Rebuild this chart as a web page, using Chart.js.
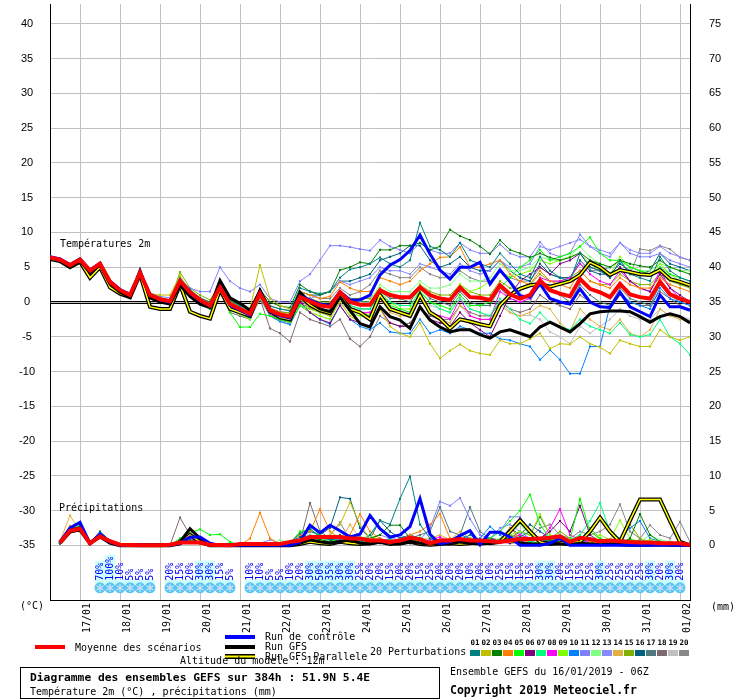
<!DOCTYPE html>
<html lang="fr">
<head>
<meta charset="utf-8">
<title>Diagramme des ensembles GEFS</title>
<script src="https://cdn.jsdelivr.net/npm/chart.js@4.4.1/dist/chart.umd.min.js"></script>
<style>
  html, body { margin: 0; padding: 0; background: #fff; }
  canvas { display: block; }
</style>
</head>
<body>
<canvas id="gefsChart" width="740" height="700"></canvas>
<script>
// GEFS run of 16/01/2019 06Z, one value every 6 h out to 384 h
const STEP_H = 6;
const RUN_LENGTH_H = 384;
const FIRST_MIDNIGHT_H = 18; // 17/01 00Z

const DATE_LABELS = ['17/01', '18/01', '19/01', '20/01', '21/01', '22/01', '23/01', '24/01',
  '25/01', '26/01', '27/01', '28/01', '29/01', '30/01', '31/01', '01/02'];
const TEMP_TICKS = [-35, -30, -25, -20, -15, -10, -5, 0, 5, 10, 15, 20, 25, 30, 35, 40];
const PRECIP_TICKS = [0, 5, 10, 15, 20, 25, 30, 35, 40, 45, 50, 55, 60, 65, 70, 75];

// Temperature 2m (°C)
const MEAN_T = [6.4,6.1,5.3,6.1,4.5,5.5,2.9,1.7,1.0,4.2,1.0,0.4,0.1, 3.0,1.4,0.3,-0.5, 2.1,-0.3,-1.0,-1.7, 1.2,-1.2,-1.8,-2.1, 0.7,0.1,-0.5,-0.7, 1.4,0.0,-0.4,-0.4, 1.7,1.0,0.7,0.7, 2.1,1.0,0.5,0.3, 2.1,0.7,0.6,0.3, 2.4,1.1,0.5,1.0, 3.1,1.7,1.2,0.8, 3.3,1.9,1.4,0.7, 2.6,1.1,0.7,0.5, 2.9,1.1,0.5,0.0];
const CTRL_T = [6.5,6.2,5.4,6.2,4.6,5.6,3.0,1.8,1.1,4.3,1.1,0.3,0.0, 3.1,1.3,0.2,-0.6, 2.2,-0.5,-1.2,-1.9, 1.3,-1.3,-2.0,-2.3, 0.8,0.3,-0.3,-0.5, 1.5,0.3,0.3,1.0, 3.9,5.3,6.1,7.4, 9.6,6.9,4.6,3.3, 5.0,5.0,5.7,2.6, 4.6,2.9,0.9,0.7, 2.6,0.5,0.0,-0.3, 1.9,0.0,-0.7,-0.8, 1.4,-0.7,-1.4,-2.1, 1.0,-0.7,-0.7,-1.2];
const GFS_T = [6.3,6.0,5.1,5.9,4.2,5.3,2.6,1.4,0.7,4.5,0.6,0.0,-0.3, 2.4,0.8,-0.3,-0.8, 3.1,0.6,-0.2,-1.2, 1.6,-1.4,-1.9,-2.1, 1.4,0.0,-1.0,-1.4, 0.7,-1.2,-3.1,-3.6, -0.7,-2.1,-2.6,-3.8, -0.7,-2.6,-3.6,-4.3, -4.0,-4.0,-4.7,-5.2, -4.3,-4.0,-4.5,-5.0, -3.6,-2.9,-3.6,-4.3, -3.1,-1.7,-1.4,-1.3, -1.3,-1.4,-2.1,-2.9, -2.1,-1.7,-2.1,-3.0];
const PARA_T = [6.2,5.9,5.0,5.8,3.5,5.0,2.1,1.2,0.7,4.0,-0.7,-1.0,-1.0, 2.5,-1.4,-2.0,-2.4, 1.8,-1.0,-1.5,-2.0, 1.5,-1.3,-2.2,-2.5, 0.9,-0.4,-1.2,-1.6, 1.0,-1.0,-1.5,-2.5, 1.0,-1.0,-1.5,-2.0, 1.0,-1.5,-2.4,-3.8, -2.5,-2.8,-3.2,-3.5, -0.5,1.0,1.9,2.4, 2.6,2.2,2.6,3.0, 3.9,5.7,5.0,3.9, 4.6,4.3,4.0,3.9, 4.6,3.3,2.9,2.4];

const T01 = [6.5,6.2,5.4,6.2,4.6,5.6,3.0,1.8,1.2,4.5,1.2,0.6,0.3, 3.4,1.8,0.6,0.0, 2.6,0.2,-0.6,-1.2, 1.6,-0.6,-1.0,-1.3, 2.0,1.5,1.2,1.5, 3.5,4.7,5.0,5.5, 6.4,5.5,5.0,6.0, 11.4,8.0,7.5,6.5, 8.5,6.0,5.5,5.0, 7.0,5.5,4.0,3.5, 6.5,4.5,3.5,3.0, 7.0,5.0,4.5,3.5, 6.0,4.0,3.5,3.0, 6.5,4.5,3.5,3.0];
const T02 = [6.3,6.0,5.2,6.0,4.4,5.4,2.8,1.6,0.9,4.0,1.2,1.0,1.0, 3.8,1.5,0.5,-0.2, 2.5,0.0,-0.5,-1.0, 5.3,0.5,-0.5,-1.0, 0.5,-1.0,-1.5,-2.0, 0.0,-2.0,-3.0,-3.5, -1.0,-3.5,-4.5,-5.0, -3.0,-6.0,-8.1,-7.0, -6.1,-7.0,-7.4,-7.6, -5.5,-6.0,-6.0,-5.3, -4.5,-6.7,-6.0,-6.1, -5.0,-6.0,-6.5,-7.4, -5.5,-6.0,-6.4,-6.4, -4.0,-5.0,-5.5,-5.0];
const T03 = [6.4,6.1,5.3,6.1,4.5,5.5,2.9,1.7,1.0,4.2,1.0,0.5,0.2, 3.2,1.5,0.5,-0.2, 2.4,0.3,-0.5,-1.0, 1.8,0.0,-0.6,-0.8, 2.5,1.5,1.0,1.5, 4.6,5.0,5.7,5.5, 7.5,7.5,8.1,8.1, 8.5,7.5,8.0,10.4, 9.5,8.9,8.0,6.9, 8.9,7.5,7.0,6.4, 7.0,6.4,6.0,6.4, 7.1,6.0,5.5,5.0, 6.0,5.5,5.2,5.0, 6.0,5.0,4.5,4.0];
const T04 = [6.5,6.2,5.4,6.1,4.6,5.6,3.1,1.8,1.1,4.3,1.2,0.6,0.3, 3.3,1.6,0.5,-0.3, 2.3,0.0,-0.8,-1.5, 1.5,-0.8,-1.5,-1.8, 1.5,1.0,0.5,0.8, 2.9,2.0,1.5,1.5, 3.5,3.0,2.5,3.0, 4.5,5.5,6.4,6.5, 7.9,5.0,5.0,5.5, 6.0,4.0,3.0,2.5, 4.5,3.0,2.5,2.0, 4.5,3.0,2.5,2.0, 3.5,2.5,2.0,2.0, 3.5,2.5,2.0,1.5];
const T05 = [6.4,6.0,5.2,6.0,4.5,5.4,2.8,1.6,0.9,4.0,0.8,0.2,-0.1, 2.6,0.8,-0.3,-1.0, 1.5,-1.5,-3.6,-3.6, -1.7,-2.0,-2.5,-2.8, -0.5,-1.0,-1.5,-2.0, 0.5,-1.0,-1.5,-2.0, 0.5,-0.5,-1.0,-1.5, 1.5,0.0,-0.5,-1.0, 1.0,-0.5,-0.5,0.0, 2.0,3.5,5.0,6.0, 7.5,6.0,6.5,7.0, 8.0,9.3,7.0,6.0, 6.0,5.0,4.5,4.0, 5.0,4.0,3.5,3.0];
const T06 = [6.4,6.1,5.3,6.1,4.5,5.5,2.9,1.8,1.1,4.3,1.0,0.3,0.0, 3.1,1.3,0.2,-0.5, 2.2,-0.3,-1.2,-1.8, 1.0,-1.5,-2.0,-2.3, 0.0,-1.5,-2.5,-3.0, -0.5,-2.5,-3.0,-3.5, -1.0,-3.0,-3.5,-3.5, -1.0,-2.5,-3.0,-3.5, -1.5,-3.0,-4.0,-5.0, -2.0,1.0,3.0,4.0, 5.0,4.0,5.5,6.0, 7.0,5.0,4.5,3.5, 5.0,3.0,2.0,1.5, 4.0,2.0,1.0,0.0];
const T07 = [6.5,6.1,5.3,6.2,4.6,5.5,3.0,1.8,1.0,4.4,1.1,0.5,0.1, 3.2,1.4,0.1,-0.7, 1.8,-0.6,-1.5,-2.2, 0.8,-1.6,-2.3,-2.6, 0.3,-0.5,-1.0,-1.2, 1.0,-0.5,-1.0,-1.0, 1.0,0.0,-0.5,-0.5, 1.5,0.0,-1.0,-1.5, 0.5,-1.0,-1.5,-2.0, 0.5,-1.0,-2.5,-3.1, -1.5,-3.0,-3.5,-4.0, -2.5,-3.5,-4.0,-4.5, -3.0,-4.7,-5.0,-4.7, -2.5,-5.0,-6.0,-7.6];
const T08 = [6.4,6.1,5.3,6.1,4.4,5.5,2.8,1.6,0.9,4.1,0.9,0.3,0.0, 2.9,1.2,0.0,-0.8, 1.8,-0.8,-1.5,-2.0, 0.8,-1.8,-2.4,-2.7, 0.0,-0.5,-1.0,-1.5, 0.5,-1.0,-1.5,-1.5, 0.5,-1.0,-1.5,-1.7, 1.0,-1.5,-2.0,-2.4, 0.5,-2.0,-2.5,-2.5, 1.5,0.5,0.0,0.5, 3.5,3.0,3.0,3.5, 5.5,4.0,3.0,2.5, 4.5,3.0,2.0,1.5, 4.5,2.0,0.5,0.0];
const T09 = [6.3,6.0,5.2,6.0,4.4,5.3,2.7,1.5,0.8,3.9,0.8,0.2,-0.2, 2.8,1.1,0.0,-0.8, 1.6,-1.0,-1.8,-2.5, 0.6,-1.8,-2.5,-2.9, -0.5,-1.5,-2.0,-2.5, 0.5,-1.5,-2.0,-2.0, 1.5,0.0,-1.0,-1.0, 2.0,1.0,0.5,0.5, 2.5,1.5,2.0,3.0, 4.5,3.5,4.0,4.5, 6.0,5.5,6.0,6.5, 7.0,5.5,4.5,4.0, 6.5,5.0,4.5,4.0, 5.5,4.0,3.0,2.5];
const T10 = [6.4,6.0,5.3,6.0,4.5,5.4,2.8,1.6,0.9,4.0,0.9,0.2,-0.2, 2.7,0.9,-0.3,-1.0, 1.8,-0.8,-1.6,-2.3, 0.6,-2.0,-2.8,-3.2, -0.5,-1.5,-2.5,-3.2, -0.5,-2.5,-3.5,-4.0, -3.0,-4.3,-4.5,-4.5, -2.5,-4.5,-4.0,-4.5, -3.5,-4.0,-4.5,-4.5, -5.3,-5.5,-6.0,-6.4, -8.3,-6.9,-8.3,-10.3, -10.3,-6.4,-6.4,-0.5, 1.5,0.0,-0.5,-1.0, 2.0,0.5,0.0,-0.5];
const T11 = [6.4,6.1,5.4,6.2,4.6,5.6,3.0,1.8,1.1,4.4,1.3,0.8,0.6, 3.2,2.0,1.5,1.5, 5.0,3.0,2.0,1.5, 2.5,0.5,0.0,0.0, 3.0,4.0,6.0,8.1, 8.1,7.9,7.6,7.4, 8.9,8.0,7.5,7.0, 8.5,7.5,7.0,7.0, 8.5,7.5,7.0,7.0, 8.3,7.0,6.5,6.5, 8.6,7.0,6.5,7.0, 9.7,8.0,7.0,6.5, 8.5,7.0,6.5,6.5, 7.0,6.0,5.5,5.0];
const T12 = [6.5,6.2,5.4,6.2,4.6,5.6,3.0,1.8,1.1,4.3,1.1,0.5,0.2, 3.1,1.5,0.4,-0.4, 2.2,-0.2,-0.9,-1.5, 1.3,-1.0,-1.6,-1.9, 0.8,0.3,-0.3,-0.5, 1.5,0.5,0.0,0.0, 2.5,1.5,1.5,1.5, 3.0,2.0,2.0,2.5, 4.0,3.0,3.0,3.5, 5.5,4.5,4.5,5.0, 6.5,6.0,6.0,6.5, 8.0,6.5,5.5,5.0, 6.0,5.0,4.5,4.5, 5.5,5.0,4.5,4.5];
const T13 = [6.3,6.0,5.2,6.0,4.4,5.4,2.8,1.6,0.9,4.1,0.9,0.3,0.0, 3.0,1.3,0.2,-0.6, 2.0,-0.4,-1.1,-1.8, 1.0,-1.3,-1.9,-2.2, 0.5,0.5,1.0,1.5, 3.0,2.5,3.0,3.5, 5.0,4.5,4.5,4.0, 5.5,5.0,4.5,4.0, 5.5,4.5,4.0,4.5, 6.0,5.0,5.0,5.5, 8.0,7.5,8.0,8.5, 9.0,8.0,7.5,7.0, 8.5,7.5,7.0,7.0, 8.0,7.0,6.5,6.0];
const T14 = [6.4,6.1,5.3,6.1,4.5,5.5,2.9,1.7,1.0,4.2,1.0,0.4,0.1, 2.8,1.2,0.1,-0.7, 1.9,-0.5,-1.3,-2.0, 1.0,-1.4,-2.0,-2.4, 0.3,-0.4,-1.0,-1.4, 0.8,-0.8,-1.5,-1.8, 0.5,-1.5,-2.0,-2.0, 0.5,-1.5,-2.5,-3.0, -0.5,-2.0,-2.5,-2.5, -0.5,-1.5,-2.0,-1.5, -0.5,-1.0,-3.0,-4.3, -1.0,-2.5,-3.5,-4.0, -2.5,-4.5,-5.0,-4.0, -1.0,-2.0,-2.5,-2.8];
const T15 = [6.4,6.1,5.3,6.1,4.5,5.5,2.9,1.7,1.1,4.3,1.1,0.5,0.2, 4.3,2.0,1.0,0.3, 2.5,0.5,-0.5,-1.0, 1.5,-1.0,-1.5,-1.5, 1.0,0.5,0.0,0.0, 1.5,0.5,0.5,0.5, 2.0,1.0,0.5,0.5, 2.5,1.5,1.0,1.0, 2.5,1.5,1.0,1.0, 3.0,2.0,2.0,2.5, 4.0,3.0,3.0,3.5, 4.5,3.0,2.5,2.5, 4.0,3.0,2.5,2.5, 4.0,3.0,2.5,2.0];
const T16 = [6.5,6.2,5.4,6.2,4.6,5.6,3.0,1.8,1.1,4.2,1.0,0.4,0.2, 3.1,1.5,0.5,-0.3, 2.3,0.0,-0.8,-1.4, 1.4,-0.9,-1.4,-1.6, 1.5,1.0,1.0,1.5, 3.0,3.0,3.5,4.0, 6.0,6.5,7.0,8.1, 8.1,6.0,5.0,5.5, 6.5,5.0,4.5,4.5, 6.0,4.5,3.5,3.0, 5.5,4.0,3.5,3.5, 6.0,4.5,4.0,4.0, 5.5,4.5,4.0,4.5, 7.0,5.5,5.0,4.5];
const T17 = [6.4,6.0,5.2,6.0,4.4,5.4,2.8,1.6,0.9,4.0,0.8,0.1,-0.2, 2.9,1.1,-0.1,-0.9, 1.7,-0.8,-1.6,-2.3, 0.7,-1.9,-2.6,-3.0, -0.2,-0.8,-1.3,-1.5, 0.8,-0.5,-1.0,-1.0, 1.5,0.5,0.5,0.0, 2.0,0.5,0.0,-0.5, 1.5,0.0,-0.5,-0.5, 2.0,0.5,0.0,0.0, 3.0,2.0,1.0,0.0, 2.5,1.0,0.0,-0.5, 2.0,0.5,0.0,-0.5, 2.5,1.0,0.0,-0.5];
const T18 = [6.4,6.1,5.3,6.1,4.5,5.5,2.9,1.7,1.0,4.2,0.9,0.3,0.0, 2.9,1.2,0.0,-0.8, 1.5,-1.5,-2.0,-2.5, 0.5,-3.8,-4.5,-5.7, -1.5,-2.5,-3.0,-3.5, -2.5,-5.3,-6.4,-5.0, -2.0,-3.0,-3.5,-3.0, -1.0,-2.0,-2.5,-2.5, -0.5,-1.5,-2.0,-2.0, 0.0,-1.0,-1.5,-1.0, 1.0,0.0,-0.5,-1.0, 1.0,0.0,-0.5,-1.0, 1.0,0.0,-0.5,-0.5, 1.5,0.5,-0.5,-1.0];
const T19 = [6.3,6.0,5.2,6.0,4.4,5.4,2.8,1.6,0.9,4.1,0.9,0.3,-0.1, 2.7,1.0,-0.2,-1.0, 1.6,-1.0,-1.8,-2.5, 0.5,-2.0,-2.8,-3.3, -0.5,-1.5,-2.0,-2.5, 0.0,-1.5,-2.0,-2.0, 0.5,-1.0,-1.5,-1.5, 1.0,-0.5,-1.0,-1.5, 0.5,-1.0,-1.5,-2.0, 0.0,-1.5,-2.0,-1.9, -2.5,-4.3,-5.0,-6.0, -3.5,-4.5,-3.5,-2.5, -1.0,-2.0,-2.5,-2.5, -1.0,-2.0,-2.0,-2.5];
const T20 = [6.5,6.2,5.4,6.2,4.6,5.6,3.0,1.8,1.1,4.3,1.1,0.5,0.2, 3.2,1.6,0.6,-0.2, 2.3,0.2,-0.5,-1.0, 1.7,-0.5,-1.0,-1.2, 1.5,1.0,0.5,0.5, 2.0,1.0,1.5,2.5, 4.5,4.0,3.5,3.5, 5.0,4.0,3.5,3.5, 4.5,3.5,3.0,3.0, 4.5,3.5,3.0,3.0, 5.0,4.0,3.5,3.5, 5.5,4.5,4.5,5.0, 6.0,4.0,7.6,7.4, 8.1,7.6,6.4,6.0];

// Precipitation (mm per 6 h), nothing at the analysis time
const MEAN_P = [null,0.4,2.1,2.4,0.3,1.3,0.6,0.1,0.05,0,0,0,0.1, 0.4,0.4,0.4,0.1,0.05,0,0.2,0.2,0.2,0.2,0.2,0.5,0.7, 1.2,1.2,1.2,1.2,1.0,1.0,0.7,0.7,0.5,0.7,1.1,0.9,0.3, 0.7,0.7,0.9,0.7,0.7,0.6,0.5,0.7,0.9,0.9,1.0,1.1,1.3, 0.5,1.1,0.9,0.6,0.7,0.6,0.5,0.4,0.4,0.3,0.3,0.3,0.05];
const CTRL_P = [null,0.5,2.5,3.3,0.3,1.6,0.5,0,0,0,0,0,0, 0.3,1.2,1.2,0.3,0,0,0,0,0,0,0,0,0.5, 2.9,1.8,2.9,2.1,1.2,1.6,4.3,2.4,1.2,1.5,2.7,6.7,1.6, 0.2,0.5,1.4,2.1,0.1,1.9,1.9,1.2,0,0,0,0.3,1.0, 0,0,0,0,0,0,0,0,0,0,0,0,0];
const GFS_P = [null,0.4,2.2,2.5,0.3,1.4,0.5,0,0,0,0,0,0, 0.5,2.4,1.0,0.2,0,0,0,0,0,0,0,0,0.3, 0.8,0.5,0.3,0.5,0.8,0.3,0.2,0.5,0.3,0.2,0.5,0.3,0.2, 0.3,0.2,0.5,0.3,0.2,0.3,0.5,0.8,0.3,0.2,0.1,0.3,0.2, 0.1,0.3,0.2,0.1,0.2,0.1,0,0,0,0.1,0,0,0];
const PARA_P = [null,0.4,2.0,2.3,0.3,1.3,0.4,0,0,0,0,0,0, 0.3,1.5,0.5,0,0,0,0,0,0,0,0,0,0.2, 0.5,0.3,0.2,0.5,0.3,0.2,0.3,0.5,0.2,0.3,0.5,0.2,0.1, 0.2,0.3,0.2,0.3,0.5,0.3,0.5,2.0,3.6,2.0,0.5,0.2,0.3, 0.5,0.5,2.0,4.0,2.0,0.5,3.6,6.6,6.6,6.6,3.5,0.5,0];

const P01 = [null,0.4,2.0,2.8,0.3,1.8,0.6,0.1,0,0,0,0,0, 0.3,0.8,0.5,0,0,0,0,0,0,0,0,0.4,1.7, 2.4,1.2,0.8,1.0,0.5,0.3,1.5,3.6,3.0,6.7,9.9,3.0,1.0, 0.5,0.2,0.8,1.5,0.6,0.3,0.5,0.8,1.2,2.0,1.0,0.5,0.3, 0.2,0.5,1.0,0.6,0.3,0.2,0.5,0.3,0.2,0.1,0.3,0.2,0];
const P02 = [null,0.5,2.5,2.0,0.2,1.2,0.4,0,0,0,0,0,0, 0.5,1.8,0.8,0.2,0,0,0,0,0,0,0,0,0.5, 1.0,0.5,1.5,3.0,6.2,3.0,1.0,0.5,0.3,0.8,1.2,0.5,0.2, 0.3,0.8,0.5,0.2,0,0.3,0.8,0.5,0.2,0,0.3,1.2,0.6, 0.2,0.5,0.3,0.2,0.5,0.8,0.3,0.2,0.5,0.3,0.2,0,0];
const P03 = [null,0.3,2.2,2.6,0.4,1.5,0.5,0,0,0,0,0,0, 0.2,0.5,0.3,0,0,0,0,0,0,0,0,0,0.3, 1.2,0.8,0.5,1.5,0.8,0.5,1.0,1.5,2.9,2.9,1.0,0.5,0.3, 0.5,0.3,0.8,0.5,0.2,0.3,0.8,1.0,0.5,0.3,0.5,0.8,0.3, 0.2,0.5,0.3,0.8,0.5,0.3,1.0,4.5,1.5,0.5,0.3,0.2,0];
const P04 = [null,0.5,2.8,2.2,0.3,1.4,0.5,0,0,0,0,0,0, 0.3,0.6,0.2,0,0,0,0,1.0,4.7,1.0,0.2,0.5,1.5, 2.0,5.2,2.0,1.0,1.5,4.5,2.0,1.0,0.5,0.8,1.5,2.0,3.0, 4.5,1.0,0.5,1.0,0.3,0.2,0.5,2.5,1.0,0.3,0.2,0.5,0.3, 0.2,0.3,0.5,0.3,0.2,0.5,0.3,0.2,0.1,0.3,0.2,0.1,0];
const P05 = [null,0.4,2.3,2.5,0.3,1.2,0.5,0,0,0,0,0,0, 1.0,1.8,2.3,1.5,1.6,0.5,0,0,0,0,0,0.3,2.0, 2.2,1.5,0.8,0.5,1.0,0.5,0.3,0.5,0.8,0.5,0.3,0.8,0.5, 0.3,0.5,0.3,0.2,0.5,1.0,2.0,3.5,5.0,7.3,3.0,1.0,0.5, 0.8,6.7,2.0,1.0,0.5,0.3,0.8,0.5,0.3,0.2,0.5,0.3,0];
const P06 = [null,0.3,2.0,2.4,0.2,1.3,0.5,0,0,0,0,0,0, 0.8,1.5,0.5,0,0,0,0,0,0,0,0,0,0.3, 0.8,0.5,0.3,0.5,0.8,0.3,0.5,0.8,0.5,0.3,0.5,0.8,0.3, 0.2,0.5,0.3,0.5,0.8,1.0,0.5,0.3,0.5,0.8,1.0,2.0,3.5, 2.0,5.7,1.5,0.5,0.3,0.8,0.5,0.3,0.2,0.3,0.2,0.1,0];
const P07 = [null,0.4,2.4,2.2,0.3,1.5,0.6,0.1,0,0,0,0,0, 0.4,1.2,0.8,0.2,0,0,0,0,0,0,0,0.2,0.8, 1.5,1.0,0.8,0.5,0.8,1.2,0.8,0.5,0.3,0.8,1.2,0.5,0.3, 0.5,0.8,0.3,0.5,0.8,1.0,0.5,1.2,0.8,0.5,1.0,0.8,1.5, 0.8,1.5,3.5,6.1,2.0,1.0,0.5,0.3,0.5,0.3,0.2,0.1,0];
const P08 = [null,0.3,1.8,2.3,0.3,1.1,0.4,0,0,0,0,0,0, 0.5,1.0,0.5,0,0,0,0,0,0,0,0,0,0.4, 0.8,0.5,1.0,0.5,0.3,0.8,0.5,0.3,0.5,0.8,0.3,0.5,0.8, 1.2,0.5,0.3,0.8,0.5,0.3,0.5,0.8,1.5,1.0,0.8,2.5,5.2, 1.5,0.8,0.5,0.3,0.5,0.3,0.2,0.5,0.3,0.2,0.1,0.3,0.1];
const P09 = [null,0.5,2.2,3.0,0.4,1.6,0.5,0,0,0,0,0,0, 0.3,0.8,0.5,0,0,0,0,0,0,0,0,0,0.5, 1.0,1.5,0.8,0.5,1.0,0.8,1.5,0.8,0.5,0.3,1.0,0.8,0.5, 0.3,0.5,0.8,1.0,0.5,0.3,0.8,1.5,2.0,1.5,4.5,1.5,0.8, 0.5,1.0,0.5,1.5,0.8,3.6,1.0,0.5,0.8,0.5,0.3,0.2,0];
const P10 = [null,0.3,1.9,2.6,0.3,1.4,0.5,0,0,0,0,0,0, 0.2,0.5,0.3,0,0,0,0,0,0,0,0,0,0.3, 0.8,0.5,0.3,0.5,0.8,0.5,0.3,0.5,1.0,1.5,0.8,0.5,0.3, 0.5,0.8,1.5,1.0,1.0,2.7,1.5,0.5,0.3,0.5,1.0,0.8,0.5, 0.5,0.3,0.8,0.5,0.3,1.0,2.5,3.5,1.0,0.5,0.3,0.2,0];
const P11 = [null,0.5,2.5,2.8,0.4,1.6,0.6,0.1,0,0,0,0,0, 0.6,1.2,0.8,0.3,0,0,0,0,0,0,0,0.3,0.8, 1.2,0.8,0.5,1.0,0.8,0.5,1.0,1.5,1.0,0.8,1.5,0.8,2.5, 6.3,5.7,6.8,3.8,1.5,1.0,2.0,4.1,4.1,2.0,1.0,0.5,0.8, 0.5,0.3,0.8,0.5,0.3,0.5,0.8,0.5,0.3,0.2,0.5,0.3,0];
const P12 = [null,0.4,2.6,2.4,0.3,1.3,0.5,0,0,0,0,0,0, 0.4,1.0,0.5,0,0,0,0,0,0,0,0.8,0.3,0.5, 1.0,0.5,0.8,1.0,0.5,0.3,0.8,0.5,0.3,0.5,0.8,1.2,0.5, 0.3,0.5,0.8,0.5,0.3,0.5,1.0,2.0,3.0,1.5,0.8,0.5,0.3, 0.5,0.8,2.0,1.0,0.5,0.3,0.8,0.5,1.5,0.8,0.5,0.3,0];
const P13 = [null,0.3,2.0,2.5,0.3,1.2,0.5,0,0,0,0,0,0, 0.3,1.0,0.6,0.2,0,0,0,0,0.3,0.8,0.3,0,0.2, 0.5,0.8,1.5,0.8,0.5,0.3,0.5,1.0,0.5,0.3,0.8,0.5,0.3, 0.5,0.8,0.5,0.3,0.8,1.0,2.5,3.0,2.0,1.0,0.5,0.8,0.5, 0.3,0.5,0.8,0.5,0.3,0.2,0.5,0.3,0.2,0.1,0.2,0.1,0];
const P14 = [null,0.6,4.3,2.0,0.3,1.0,0.4,0,0,0,0,0,0, 0.3,0.5,0.2,0,0,0,0,0,0,0,0,0,0.2, 0.5,1.0,0.8,0.5,3.0,1.0,0.5,0.8,0.5,0.3,0.5,0.8,1.0, 1.5,0.8,2.0,1.0,0.5,0.3,0.8,1.2,0.5,0.3,0.5,0.8,0.5, 1.0,0.5,0.3,0.8,0.5,0.3,0.2,0.5,0.3,0.2,0.1,0,0];
const P15 = [null,0.4,2.1,2.7,0.3,1.5,0.5,0,0,0,0,0,0, 0.5,1.3,0.6,0.1,0,0,0,0,0,0,0,0,0.3, 0.8,0.5,1.0,0.5,0.8,0.5,0.3,0.5,0.8,0.5,0.3,0.5,0.8, 0.5,0.3,0.8,1.0,0.5,0.3,0.8,1.5,1.0,0.5,0.8,1.0,2.0, 1.0,0.5,2.5,1.0,0.5,0.8,3.0,1.0,0.5,0.3,0.2,0.1,0];
const P16 = [null,0.5,2.3,3.2,0.4,2.0,0.7,0.1,0,0,0,0,0, 0.4,1.0,0.5,0.1,0,0,0,0,0,0,0,0.5,1.2, 2.0,1.5,2.5,6.9,6.7,2.5,1.0,3.6,2.0,1.0,1.5,1.0,0.5, 0.8,0.5,0.3,0.8,0.5,1.0,0.8,2.5,1.5,3.0,2.0,1.0,0.5, 0.8,0.5,0.3,0.5,0.8,0.5,0.3,0.2,0.5,0.3,0.2,0.1,0];
const P17 = [null,0.4,2.2,2.5,0.3,1.4,0.5,0,0,0,0,0,0, 0.5,1.0,0.5,0,0,0,0,0,0,0,0,0,0.3, 1.0,0.8,0.5,1.0,0.8,0.5,0.3,0.8,0.5,0.8,1.0,1.5,2.0, 5.5,2.0,1.5,5.5,2.0,1.0,0.5,0.8,0.5,0.3,0.5,0.8,0.5, 0.3,0.5,0.8,0.5,0.3,0.5,0.8,0.5,0.3,0.2,0.1,0.2,0];
const P18 = [null,0.3,2.0,2.6,0.3,1.2,0.4,0,0,0,0,0,0, 4.0,1.5,0.5,0,0,0,0,0,0,0,0,0,0.5, 6.1,2.0,1.0,0.5,0.8,0.5,0.3,0.8,0.5,0.3,0.5,0.8,0.5, 0.3,0.5,0.8,0.5,0.3,0.5,0.8,1.0,2.0,1.5,4.1,1.5,0.8, 0.5,0.3,0.5,0.8,0.5,0.3,0.5,0.8,0.5,0.3,0.2,0.1,0];
const P19 = [null,0.5,2.4,2.1,0.3,1.3,0.5,0,0,0,0,0,0, 0.3,0.8,0.4,0,0,0,0,0,0,0,0,0,0.2, 0.5,0.8,0.5,0.3,0.5,0.8,0.5,0.3,0.5,0.8,0.5,0.3,0.5, 0.8,0.5,0.3,0.5,0.8,0.5,0.3,0.5,0.8,1.0,0.5,0.3,0.5, 0.8,0.5,0.3,0.5,0.8,0.5,0.3,0.2,0.5,0.3,0.2,0.1,0];
const P20 = [null,0.4,2.1,2.9,0.3,1.5,0.5,0,0,0,0,0,0, 0.4,1.0,0.6,0.1,0,0,0,0,0,0,0,0.3,1.0, 1.5,1.0,1.5,3.3,0.8,0.5,1.0,0.8,0.5,1.0,1.5,0.8,0.5, 0.8,1.0,0.5,0.8,1.0,0.5,0.8,1.2,1.5,1.0,2.5,3.0,1.5, 1.0,2.0,1.5,2.0,3.0,5.9,2.0,1.0,2.9,1.5,1.0,3.4,0.5];

// probability of snow (%) per 6 h step, null where none is shown
const SNOW_PCT = [null,null,null,null,null,70,100,10,5,5,5,null,20,15,20,30,30,15,5,null,
  10,10,5,5,10,20,30,50,35,30,30,25,20,20,15,20,20,15,25,20,20,20,10,20,10,25,15,15,15,30,30,
  20,15,15,25,30,25,25,25,25,30,20,30,20,null];

const PERT_T = [T01,T02,T03,T04,T05,T06,T07,T08,T09,T10,T11,T12,T13,T14,T15,T16,T17,T18,T19,T20];
const PERT_P = [P01,P02,P03,P04,P05,P06,P07,P08,P09,P10,P11,P12,P13,P14,P15,P16,P17,P18,P19,P20];
const PERT_COLORS = ['#008080', '#c0c000', '#008000', '#ff8000', '#00ff00', '#800080', '#00ff80',
  '#ff00ff', '#80ff00', '#0080ff', '#8080ff', '#80ff80', '#8888ff', '#e0b040', '#80b000',
  '#006080', '#507880', '#806870', '#c0c0c0', '#888888'];

const MONO = '"DejaVu Sans Mono", "Liberation Mono", monospace';

function toPoints(values) {
  return values.map((v, i) => ({ x: i * STEP_H, y: v }));
}

function runLine(values, axis, color, width) {
  return { data: toPoints(values), yAxisID: axis, borderColor: color, borderWidth: width,
    pointRadius: 0, fill: false };
}

const datasets = [];
// first dataset is drawn on top
datasets.push(runLine(MEAN_T, 'y', '#ff0000', 4));
datasets.push(runLine(MEAN_P, 'y2', '#ff0000', 4));
datasets.push(runLine(CTRL_T, 'y', '#0000ff', 3));
datasets.push(runLine(CTRL_P, 'y2', '#0000ff', 3));
datasets.push(runLine(GFS_T, 'y', '#000000', 3));
datasets.push(runLine(GFS_P, 'y2', '#000000', 3));
datasets.push(runLine(PARA_T, 'y', '#ffff00', 1.5));
datasets.push(runLine(PARA_P, 'y2', '#ffff00', 1.5));
datasets.push(runLine(PARA_T, 'y', '#000000', 4));
datasets.push(runLine(PARA_P, 'y2', '#000000', 4));
PERT_T.forEach((series, k) => {
  [[series, 'y'], [PERT_P[k], 'y2']].forEach(([vals, axis]) => {
    datasets.push({
      data: toPoints(vals), yAxisID: axis, borderColor: PERT_COLORS[k], borderWidth: 1,
      pointStyle: 'rect', pointRadius: 1.5, pointBorderWidth: 0,
      pointBackgroundColor: PERT_COLORS[k], fill: false
    });
  });
});

// freezing line (double black line at 0 °C)
const freezingLine = {
  id: 'freezingLine',
  beforeDatasetsDraw(chart) {
    const { ctx, chartArea, scales: { y } } = chart;
    const y0 = Math.round(y.getPixelForValue(0));
    ctx.save();
    ctx.strokeStyle = '#000';
    ctx.lineWidth = 1;
    [y0 - 0.5, y0 + 1.5].forEach(py => {
      ctx.beginPath();
      ctx.moveTo(chartArea.left, py);
      ctx.lineTo(chartArea.right, py);
      ctx.stroke();
    });
    ctx.restore();
  }
};

function drawFlake(ctx, cx, cy) {
  ctx.fillStyle = '#5cc4f0';
  ctx.beginPath();
  ctx.arc(cx, cy, 5.5, 0, Math.PI * 2);
  ctx.fill();
  ctx.strokeStyle = '#e6f6ff';
  ctx.lineWidth = 1;
  for (let k = 0; k < 3; k++) {
    const a = k * Math.PI / 3 + Math.PI / 2;
    ctx.beginPath();
    ctx.moveTo(cx - 4 * Math.cos(a), cy - 4 * Math.sin(a));
    ctx.lineTo(cx + 4 * Math.cos(a), cy + 4 * Math.sin(a));
    ctx.stroke();
  }
  ctx.fillStyle = '#f0c8e8';
  ctx.fillRect(cx - 1, cy - 1, 2, 2);
}

// snow probability row under the temperature panel
const snowRow = {
  id: 'snowRow',
  afterDatasetsDraw(chart) {
    const { ctx, scales: { x, y } } = chart;
    const yText = y.getPixelForValue(-40.1);
    const yIcon = y.getPixelForValue(-41.1);
    ctx.save();
    ctx.font = '10px ' + MONO;
    SNOW_PCT.forEach((p, i) => {
      if (p == null) return;
      const px = x.getPixelForValue(i * STEP_H);
      const label = p + '%';
      const len = ctx.measureText(label).width;
      const top = p >= 30 ? yText - len - 2 : yText - 1;
      ctx.fillStyle = '#ccffff';
      ctx.fillRect(px - 5, top, 10, yIcon - top);
    });
    SNOW_PCT.forEach((p, i) => {
      if (p == null) return;
      drawFlake(ctx, x.getPixelForValue(i * STEP_H), yIcon);
    });
    ctx.fillStyle = '#0000ff';
    ctx.textAlign = 'left';
    ctx.textBaseline = 'middle';
    SNOW_PCT.forEach((p, i) => {
      if (p == null) return;
      const px = x.getPixelForValue(i * STEP_H);
      ctx.save();
      ctx.translate(px, yText);
      ctx.rotate(-Math.PI / 2);
      ctx.fillText(p + '%', 0, 0);
      ctx.restore();
    });
    ctx.restore();
  }
};

// panel titles, legend and info box
const captions = {
  id: 'captions',
  afterDraw(chart) {
    const { ctx, chartArea } = chart;
    ctx.save();
    ctx.textBaseline = 'middle';
    ctx.textAlign = 'left';
    ctx.fillStyle = '#000';
    ctx.font = '10px ' + MONO;
    ctx.fillText('Températures 2m', chartArea.left + 10, 244);
    ctx.fillText('Précipitations', chartArea.left + 9, 508);
    ctx.fillText('(°C)', 20, 606);
    ctx.fillText('(mm)', 711, 607);

    ctx.fillStyle = '#ff0000';
    ctx.fillRect(35, 645, 30, 4);
    ctx.fillStyle = '#000';
    ctx.fillText('Moyenne des scénarios', 75, 648);

    ctx.fillStyle = '#0000ff';
    ctx.fillRect(225, 635, 30, 4);
    ctx.fillStyle = '#000';
    ctx.fillText('Run de contrôle', 265, 637);
    ctx.fillRect(225, 645, 30, 4);
    ctx.fillText('Run GFS', 265, 647);
    ctx.fillRect(225, 654, 30, 5);
    ctx.fillStyle = '#ffff00';
    ctx.fillRect(225, 655.5, 30, 2);
    ctx.fillStyle = '#000';
    ctx.fillText('Run GFS Parallele', 265, 657);
    ctx.fillText('Altitude du modele : 12m', 180, 661);

    ctx.fillText('20 Perturbations', 370, 652);
    PERT_COLORS.forEach((c, k) => {
      ctx.fillStyle = c;
      ctx.fillRect(470 + 11 * k, 650, 10, 6);
    });
    ctx.fillStyle = '#000';
    ctx.textAlign = 'center';
    ctx.font = 'bold 7.5px ' + MONO;
    PERT_COLORS.forEach((c, k) => {
      ctx.fillText(String(k + 1).padStart(2, '0'), 475 + 11 * k, 643);
    });

    ctx.textAlign = 'left';
    ctx.strokeStyle = '#000';
    ctx.lineWidth = 1;
    ctx.strokeRect(20.5, 667.5, 419, 31);
    ctx.font = 'bold 11.3px ' + MONO;
    ctx.fillText('Diagramme des ensembles GEFS sur 384h : 51.9N 5.4E', 30, 678);
    ctx.font = '10px ' + MONO;
    ctx.fillText('Température 2m (°C) , précipitations (mm)', 30, 692);
    ctx.fillText('Ensemble GEFS du 16/01/2019 - 06Z', 450, 672);
    ctx.font = 'bold 11.5px ' + MONO;
    ctx.fillText('Copyright 2019 Meteociel.fr', 450, 691);
    ctx.restore();
  }
};

const yMax = 300 / 7; // 7 px per °C over a 600 px plot
const PRECIP_OFFSET = 35; // 0 mm sits on the -35 °C line

const chart = new Chart(document.getElementById('gefsChart').getContext('2d'), {
  type: 'line',
  data: { datasets: datasets },
  options: {
    responsive: false,
    animation: false,
    devicePixelRatio: 1,
    events: [],
    layout: { padding: 0 },
    plugins: { legend: { display: false }, tooltip: { enabled: false } },
    elements: { line: { tension: 0 } },
    scales: {
      x: {
        type: 'linear', position: 'bottom', min: 0, max: RUN_LENGTH_H,
        afterBuildTicks: s => { s.ticks = DATE_LABELS.map((_, k) => ({ value: FIRST_MIDNIGHT_H + 24 * k })); },
        afterFit: s => { s.height = 100; s.paddingLeft = 0; s.paddingRight = 0; },
        grid: { color: '#c0c0c0', drawTicks: false },
        border: { color: '#000' },
        ticks: {
          autoSkip: false, minRotation: 90, maxRotation: 90, padding: 3, labelOffset: 7,
          color: '#000', font: { family: MONO, size: 10 },
          callback: (v, i) => DATE_LABELS[i]
        }
      },
      y: {
        position: 'left', min: -yMax, max: yMax,
        afterBuildTicks: s => { s.ticks = TEMP_TICKS.map(v => ({ value: v })); },
        afterFit: s => { s.width = 50; s.paddingTop = 0; s.paddingBottom = 0; },
        grid: { color: '#c0c0c0', drawTicks: false },
        border: { color: '#000' },
        ticks: { padding: 15, crossAlign: 'center', color: '#000',
          font: { family: '"Liberation Sans", Arial, sans-serif', size: 11 } }
      },
      y2: {
        position: 'right', min: -yMax + PRECIP_OFFSET, max: yMax + PRECIP_OFFSET,
        afterBuildTicks: s => { s.ticks = PRECIP_TICKS.map(v => ({ value: v })); },
        afterFit: s => { s.width = 50; s.paddingTop = 0; s.paddingBottom = 0; },
        grid: { display: false, drawTicks: false },
        border: { color: '#000' },
        ticks: { padding: 19, color: '#000',
          font: { family: '"Liberation Sans", Arial, sans-serif', size: 11 } }
      }
    }
  },
  plugins: [freezingLine, snowRow, captions]
});
</script>
</body>
</html>
